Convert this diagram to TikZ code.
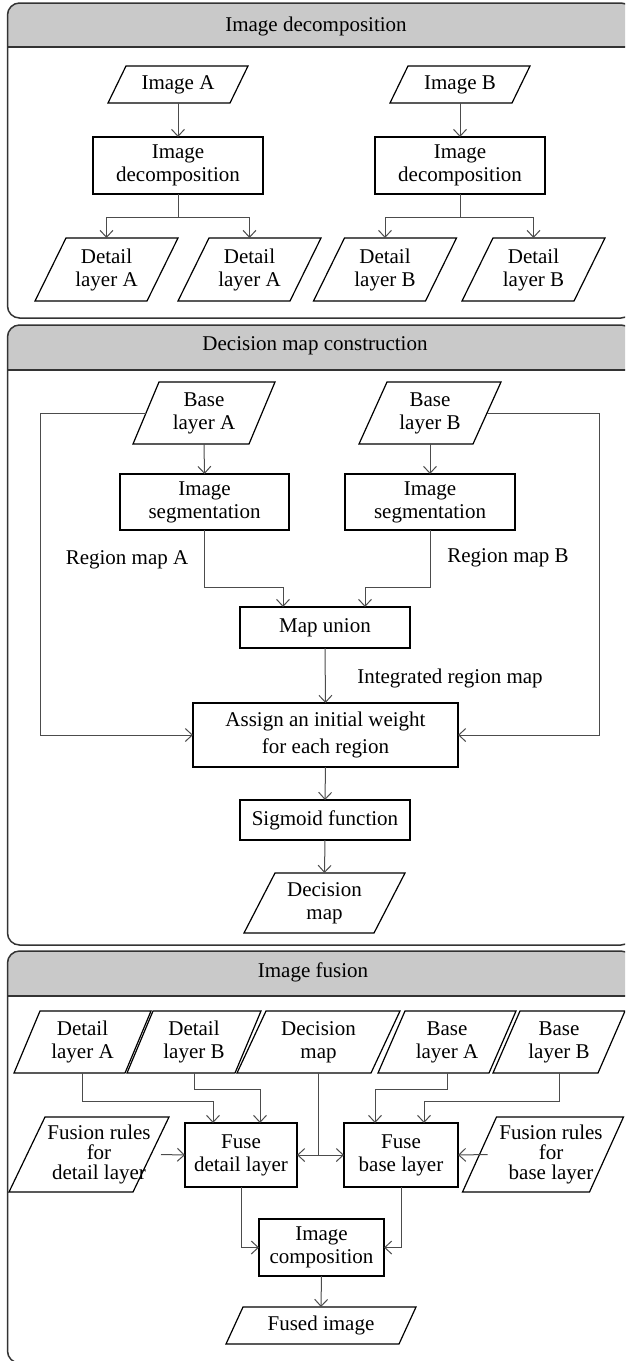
\documentclass[tikz,border=0pt]{standalone}
\usepackage{fontspec}
\setmainfont{Liberation Serif}
\usetikzlibrary{arrows.meta,calc}
\tikzset{
  every node/.style={font=\fontsize{21}{23}\selectfont},
  boxn/.style={draw=black, line width=1.2pt, align=center, inner sep=0pt, outer sep=0pt},
  ptext/.style={align=center, inner sep=0pt, outer sep=0pt},
  pline/.style={draw=black, line width=1.2pt, line join=miter},
  lbl/.style={inner sep=0pt},
  titletxt/.style={inner sep=0pt},
  wire/.style={draw=black!70, line width=1pt},
  arr/.style={wire, -{Straight Barb[length=7pt,width=13pt]}},
  darr/.style={wire, {Straight Barb[length=7pt,width=13pt]}-{Straight Barb[length=7pt,width=13pt]}},
  panel/.style={draw=black!80, line width=1.5pt},
  titlefill/.style={fill=black!21},
}
% name, cx, cy, edge width, height, slant, text dx, text
\newcommand\pgram[8]{%
  \node[ptext, minimum width=#4pt, minimum height=#5pt] (#1) at ({#2+#7},#3) {#8};
  \draw[pline] ($(#1.south west)+({-(#7)-(#6)/2},0)$) -- ($(#1.south east)+({-(#7)-(#6)/2},0)$)
     -- ($(#1.north east)+({-(#7)+(#6)/2},0)$) -- ($(#1.north west)+({-(#7)+(#6)/2},0)$) -- cycle;
}
\newcommand\panelbox[3]{% top, title bottom, bottom
  \begin{scope}
    \clip[rounded corners=12pt] (7.5,#1) rectangle (633,#3);
    \fill[titlefill] (7.5,#1) rectangle (633,#2);
  \end{scope}
  \draw[panel] (7.5,#2) -- (633,#2);
  \draw[panel, rounded corners=12pt] (7.5,#1) rectangle (633,#3);
}
\begin{document}
\begin{tikzpicture}[x=1pt,y=-1pt]
\useasboundingbox (0,0) rectangle (625,1361);
\clip (0,0) rectangle (625,1361);

% ---------------- Panel 1 ----------------
\panelbox{3}{47}{318}
\node[titletxt] (t1) at (316,26) {Image decomposition};

\pgram{imgA}{178}{84.5}{122}{37}{18}{0}{Image A}
\pgram{imgB}{460}{84.5}{122}{37}{18}{0}{Image B}
\node[boxn, minimum width=170pt, minimum height=57pt] (decA) at (178,165.5) {Image\\decomposition};
\node[boxn, minimum width=170pt, minimum height=57pt] (decB) at (460,165.5) {Image\\decomposition};
\pgram{dA1}{106.5}{269.5}{112}{63}{31}{0}{Detail\\layer A}
\pgram{dA2}{249.5}{269.5}{112}{63}{31}{0}{Detail\\layer A}
\pgram{dB1}{385}{269.5}{112}{63}{31}{0}{Detail\\layer B}
\pgram{dB2}{533.5}{269.5}{112}{63}{31}{0}{Detail\\layer B}

\draw[arr] (imgA.south) -- (decA.north);
\draw[arr] (imgB.south) -- (decB.north);
\coordinate (jA) at (178,217);
\coordinate (jB) at (460,217);
\draw[wire] (decA.south) -- (jA);
\draw[arr] (jA) -| (dA1.north);
\draw[arr] (jA) -| (dA2.north);
\draw[wire] (decB.south) -- (jB);
\draw[arr] (jB) -| (dB1.north);
\draw[arr] (jB) -| (dB2.north);

% ---------------- Panel 2 ----------------
\panelbox{325}{370}{945}
\node[titletxt] (t2) at (315,346) {Decision map construction};

\pgram{baseA}{204}{413}{116}{62}{26}{0}{Base\\layer A}
\pgram{baseB}{430}{413}{114}{62}{28}{0}{Base\\layer B}
\node[boxn, minimum width=169pt, minimum height=56pt] (segA) at (204.5,502) {Image\\segmentation};
\node[boxn, minimum width=170pt, minimum height=56pt] (segB) at (430,502) {Image\\segmentation};
\node[boxn, minimum width=170pt, minimum height=41pt] (union) at (325,627.5) {Map union};
\node[boxn, minimum width=265pt, minimum height=64pt] (assign) at (325.5,735) {Assign an initial weight\\[4pt]for each region};
\node[boxn, minimum width=170pt, minimum height=40pt] (sigmoid) at (325,820) {Sigmoid function};
\pgram{decmap}{324.5}{903}{130}{60}{31}{0}{Decision\\map}
\node[lbl] (rmA) at (127,560) {Region map A};
\node[lbl] (rmB) at (508,558) {Region map B};
\node[lbl] (irm) at (450,678) {Integrated region map};

\draw[arr] (baseA.south) -- (segA.north);
\draw[arr] (baseB.south) -- (segB.north);
\coordinate (mA) at (283,587);
\coordinate (mB) at (365,587);
\draw[arr] (segA.south) |- (mA) -- (mA |- union.north);
\draw[arr] (segB.south) |- (mB) -- (mB |- union.north);
\draw[arr] (union.south) -- (assign.north);
\coordinate (lA) at (40,413);
\coordinate (rB) at (599,413);
\draw[arr] (baseA.west) -- (lA) |- (assign.west);
\draw[arr] (baseB.east) -- (rB) |- (assign.east);
\draw[arr] (assign.south) -- (sigmoid.north);
\draw[arr] (sigmoid.south) -- (decmap.north);

% ---------------- Panel 3 ----------------
\panelbox{951}{996}{1363}
\node[titletxt] (t3) at (313,972) {Image fusion};

\pgram{fdA}{82.5}{1042}{111}{62}{26}{0}{Detail\\layer A}
\pgram{fdB}{194}{1042}{108}{62}{26}{0}{Detail\\layer B}
\pgram{fdec}{318.5}{1042}{134}{62}{29}{0}{Decision\\map}
\pgram{fbA}{447}{1042}{111}{62}{27}{0}{Base\\layer A}
\pgram{fbB}{559}{1042}{105}{62}{27}{0}{Base\\layer B}
\node[boxn, minimum width=112pt, minimum height=64pt] (fusdet) at (241,1155) {Fuse\\detail layer};
\node[boxn, minimum width=114pt, minimum height=64pt] (fusbase) at (401,1155) {Fuse\\base layer};
\pgram{rulesD}{89}{1154.5}{124}{75}{36}{10}{Fusion rules\\[-3pt]for\\[-3pt]detail layer}
\pgram{rulesB}{543}{1154.5}{127}{75}{34}{8}{Fusion rules\\[-3pt]for\\[-3pt]base layer}
\node[boxn, minimum width=125pt, minimum height=57pt] (comp) at (321.5,1247.5) {Image\\composition};
\pgram{fused}{321}{1325.5}{173}{37}{17}{0}{Fused image}

\coordinate (kA) at (213,1101);
\coordinate (kB) at (260,1089);
\coordinate (kC) at (375,1089);
\coordinate (kD) at (424,1101);
\draw[arr] (fdA.south) |- (kA) -- (kA |- fusdet.north);
\draw[arr] (fdB.south) |- (kB) -- (kB |- fusdet.north);
\draw[arr] (fbA.south) |- (kC) -- (kC |- fusbase.north);
\draw[arr] (fbB.south) |- (kD) -- (kD |- fusbase.north);
\draw[darr] (fusdet.east) -- (fusbase.west);
\draw[wire] (fdec.south) -- (fdec.south |- fusdet.east);
\draw[arr] (rulesD.east) -- (fusdet.west);
\draw[arr] (rulesB.west) -- (fusbase.east);
\draw[arr] (fusdet.south) |- (comp.west);
\draw[arr] (fusbase.south) |- (comp.east);
\draw[arr] (comp.south) -- (fused.north);
\end{tikzpicture}
\end{document}
